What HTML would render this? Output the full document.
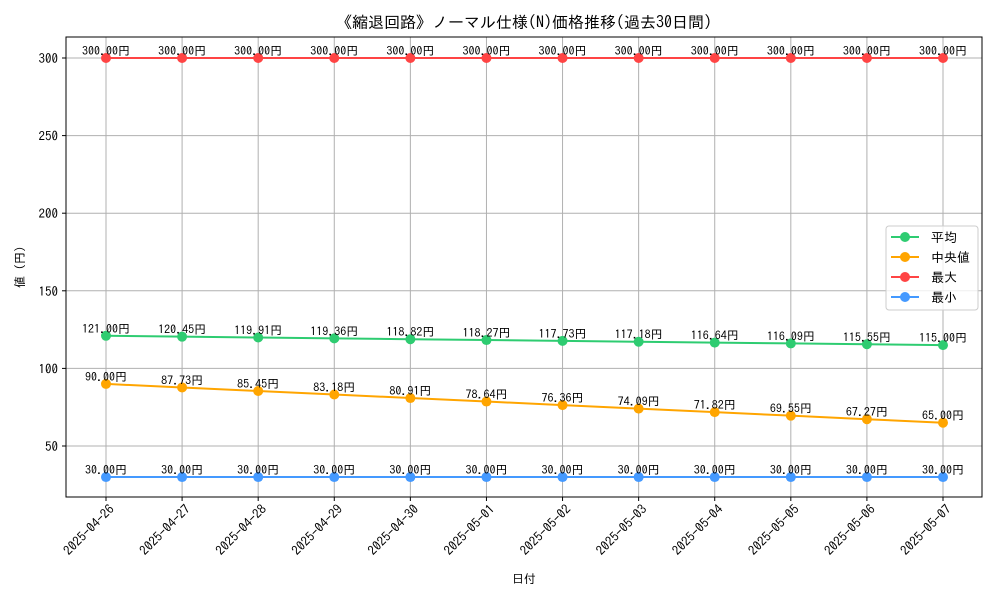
<!DOCTYPE html>
<html><head><meta charset="utf-8"><style>
body{margin:0;background:#fff;}
svg text{font-family:"IPAGothic","Liberation Sans","Noto Sans CJK JP",sans-serif;fill:#000;}
</style></head><body>
<svg id="chart" width="1000" height="600" xmlns="http://www.w3.org/2000/svg">
<rect width="1000" height="600" fill="#fff"/>
<text x="524" y="28" font-size="16" text-anchor="middle">《縮退回路》ノーマル仕様(N)価格推移(過去30日間)</text>
<g id="grid"></g>
<g id="series"></g>
<rect x="66" y="37" width="916" height="460" fill="none" stroke="#000" stroke-width="1"/>
<g id="axes"></g>
<text x="524" y="583" font-size="12" text-anchor="middle">日付</text>
<text transform="translate(24,267) rotate(-90)" font-size="12" text-anchor="middle">値 (円)</text>
<g>
<rect x="886" y="226" width="92" height="84" rx="3" fill="#fff" fill-opacity="0.8" stroke="#ccc"/>
<g id="legend"></g>
</g>
</svg>
<script>
const dates=["2025-04-26","2025-04-27","2025-04-28","2025-04-29","2025-04-30","2025-05-01","2025-05-02","2025-05-03","2025-05-04","2025-05-05","2025-05-06","2025-05-07"];
const avgVals=[121.00,120.45,119.91,119.36,118.82,118.27,117.73,117.18,116.64,116.09,115.55,115.00];
const medVals=[90.00,87.73,85.45,83.18,80.91,78.64,76.36,74.09,71.82,69.55,67.27,65.00];
const maxVals=[300,300,300,300,300,300,300,300,300,300,300,300];
const minVals=[30,30,30,30,30,30,30,30,30,30,30,30];
const yTicks=[50,100,150,200,250,300];
const seriesNames=["平均","中央値","最大","最小"];
const colors=["#2ecc71","#ffa500","#ff4444","#4499ff"];
const NS="http://www.w3.org/2000/svg";
function xs(i){return 106+i*(943-106)/(dates.length-1);}
function ys(v){return 446-(v-50)*(446-58)/250;}
function mk(tag,attrs,parent){const e=document.createElementNS(NS,tag);for(const k in attrs)e.setAttribute(k,attrs[k]);parent.appendChild(e);return e;}
const grid=document.getElementById('grid'),axes=document.getElementById('axes'),ser=document.getElementById('series'),leg=document.getElementById('legend');
dates.forEach((d,i)=>{
  const x=xs(i);
  const g=mk('line',{x1:x,x2:x,y1:37,y2:497,stroke:'#b0b0b0','stroke-width':1},grid);
  
  
  mk('line',{x1:x,x2:x,y1:497,y2:501,stroke:'#000'},axes);
  const t=mk('text',{'font-size':13,'text-anchor':'end',transform:`translate(${x+9},${510}) rotate(-45)`},axes);
  t.textContent=d;
  
  
});
yTicks.forEach(v=>{
  const y=ys(v);
  const g=mk('line',{x1:66,x2:982,y1:y,y2:y,stroke:'#b0b0b0','stroke-width':1},grid);
  
  
  mk('line',{x1:62,x2:66,y1:y,y2:y,stroke:'#000'},axes);
  const t=mk('text',{x:58,y:y+5,'font-size':13,'text-anchor':'end'},axes);
  t.textContent=v;
  
  
});
const allVals=[avgVals,medVals,maxVals,minVals];
const keys=['avg','median','max','min'];
allVals.forEach((vals,s)=>{
  const g=mk('g',{},ser);
  
  
  const p=mk('polyline',{points:vals.map((v,i)=>xs(i)+','+ys(v)).join(' '),fill:'none',stroke:colors[s],'stroke-width':2},g);
  
  
  vals.forEach((v,i)=>{
    const c=mk('circle',{cx:xs(i),cy:ys(v),r:5,fill:colors[s]},g);
    
    
    const t=mk('text',{x:xs(i),y:ys(v)-3,'font-size':12,'text-anchor':'middle'},g);
    t.textContent=v.toFixed(2)+'円';
    
    
  });
});
seriesNames.forEach((n,s)=>{
  const y=237+s*20;
  const e=mk('g',{},leg);
  
  
  mk('line',{x1:891,x2:919,y1:y,y2:y,stroke:colors[s],'stroke-width':2},e);
  mk('circle',{cx:905,cy:y,r:5,fill:colors[s]},e);
  const t=mk('text',{x:931,y:y+5,'font-size':13},e);
  t.textContent=n;
});
</script>
</body></html>
